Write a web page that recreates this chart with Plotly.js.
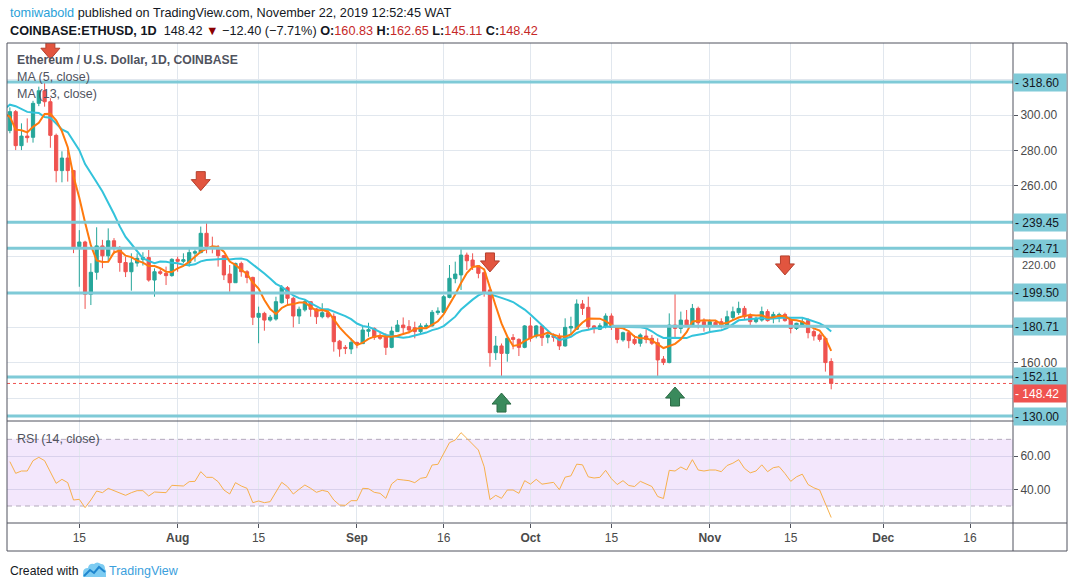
<!DOCTYPE html>
<html><head><meta charset="utf-8">
<script src="https://cdn.plot.ly/plotly-3.0.1.min.js"></script>
<style>html,body{margin:0;padding:0;background:#fff;overflow:hidden}#chart{width:1073px;height:588px}</style>
</head><body><div id="chart"></div>
<script>
// ---------------- DATA ----------------
const firstDay = '2019-07-03';
const open = [291.2,301.9,282.7,288.1,287.4,306.6,313.7,307.5,288.5,268.6,
275.7,268.6,225.7,228.3,198.8,211.2,226.1,220.5,229.0,225.2,
216.7,211.5,216.4,218.5,219.5,206.8,211.5,210.6,209.3,218.5,
217.4,216.5,222.0,222.3,233.2,225.7,225.3,220.6,210.2,205.3,
216.2,211.5,208.3,185.8,188.0,184.2,184.8,194.0,202.5,196.5,
186.5,190.0,194.6,190.5,186.1,188.4,186.3,172.3,168.8,167.9,
171.6,170.9,177.9,179.5,175.2,175.2,168.8,177.7,181.4,180.5,
179.9,177.7,180.3,180.9,188.4,188.6,197.0,207.6,209.7,220.9,
218.1,214.9,211.0,201.2,165.8,169.6,165.4,174.3,173.3,168.8,
180.9,175.2,180.9,174.5,175.2,174.8,169.6,179.7,179.0,193.3,
191.4,180.9,179.0,180.5,186.5,180.5,173.0,177.1,173.3,171.1,
175.2,173.9,171.4,162.2,160.2,181.4,179.5,184.2,181.4,190.8,
183.3,181.4,182.9,183.3,181.0,185.7,188.4,190.8,187.1,183.3,
184.2,189.0,185.7,186.1,187.4,184.6,179.5,181.4,183.9,177.7,
175.8,173.9,160.83];
const high = [304.3,302.8,295.3,298.1,308.0,316.0,318.8,309.5,289.5,279.5,
280.2,269.0,235.0,229.0,216.3,236.6,229.5,236.0,230.5,226.0,
220.0,221.9,221.9,222.5,223.8,213.4,213.4,214.4,219.1,220.0,
221.9,224.7,224.1,237.0,239.8,231.3,226.6,221.0,215.3,216.6,
217.2,212.4,208.7,191.8,188.9,187.1,197.4,204.0,203.4,197.4,
191.8,195.5,194.6,191.0,193.7,189.9,188.0,173.0,170.1,173.9,
172.0,180.9,182.7,180.1,177.1,176.7,180.5,184.2,185.7,184.2,
183.3,182.4,182.4,189.9,191.4,198.3,215.3,217.2,224.7,222.3,
221.9,215.3,211.5,201.5,175.2,171.0,174.8,176.3,173.9,181.4,
185.8,181.4,181.4,177.1,176.7,176.7,185.2,186.1,195.9,195.5,
197.4,181.4,182.4,188.0,188.0,180.9,177.7,178.6,175.8,176.7,
179.0,175.8,173.9,163.9,188.0,199.7,189.0,189.9,193.3,191.8,
185.2,184.6,184.2,185.2,189.5,191.8,194.6,192.2,188.0,186.1,
191.8,190.3,188.9,188.4,188.4,185.7,182.7,185.2,185.2,179.0,
176.7,174.8,162.65];
const low = [289.7,280.2,280.2,284.4,284.4,305.0,304.7,281.5,262.0,262.0,
262.4,222.0,203.0,190.5,192.7,207.0,213.5,217.0,221.5,211.5,
208.5,200.8,214.4,215.0,205.9,197.4,209.7,204.0,208.7,211.5,
216.3,214.4,217.2,221.9,221.9,221.9,214.4,206.8,200.2,205.3,
208.7,205.0,181.4,171.1,178.2,183.3,183.9,193.5,193.3,180.1,
182.0,189.0,186.1,182.0,185.2,185.2,166.4,163.5,165.0,165.0,
168.3,170.7,174.8,173.0,173.0,164.5,168.3,177.7,176.7,176.7,
173.9,176.7,179.5,180.5,187.1,188.0,196.5,205.0,201.2,212.5,
212.5,207.8,197.4,157.9,161.7,152.3,160.7,167.7,163.9,168.3,
172.0,173.9,169.6,171.1,172.0,167.3,169.2,175.8,178.6,187.1,
178.6,176.7,178.6,179.5,178.6,171.1,172.0,168.3,170.1,169.2,
171.1,170.1,152.6,158.8,159.8,173.9,176.7,180.5,180.5,179.5,
177.7,177.7,180.5,179.5,180.5,184.2,187.1,184.2,180.5,182.4,
183.3,183.3,182.4,183.0,183.3,176.7,178.6,180.5,173.9,172.6,
172.0,155.1,145.11];
const close = [301.9,282.7,288.1,287.2,306.6,313.7,307.5,288.5,268.6,275.7,
268.6,225.0,228.3,198.8,211.2,226.1,220.5,229.0,225.2,216.7,
211.5,216.5,219.1,219.5,206.8,211.5,210.6,209.3,218.5,217.4,
218.3,222.3,222.8,233.2,225.7,225.1,220.6,209.7,205.3,216.2,
211.5,208.3,185.8,188.0,184.2,185.8,194.6,202.7,196.5,186.5,
190.3,194.6,190.3,186.1,188.4,186.1,172.0,167.9,168.3,171.6,
170.7,178.6,178.8,174.5,173.9,168.8,178.0,181.4,179.9,178.6,
177.7,180.9,181.2,188.6,189.3,197.4,207.8,210.2,220.9,217.7,
214.4,210.6,200.2,165.8,169.6,165.4,173.9,173.3,168.8,180.9,
173.9,180.9,174.3,175.8,174.5,169.6,180.1,180.6,193.3,190.8,
180.5,179.4,181.0,186.5,180.1,173.3,177.1,172.6,171.1,175.8,
173.3,171.1,161.7,160.2,181.4,179.5,184.2,181.4,190.8,182.7,
181.4,183.3,181.4,181.0,186.1,188.9,190.8,186.1,183.3,185.2,
189.0,183.9,187.4,187.4,183.9,179.5,182.4,183.3,177.1,175.2,
173.3,160.2,148.42];
// closes before the visible window (Jun 20 - Jul 2), only used to start the moving averages
const priorFirstDay = '2019-06-20';
const priorCloses = [269,294,308,309,311,317,337,294,311,319,290,293,291];
const rsi = [56.6,49.6,51,51,57.2,59.2,57.2,50.6,43.6,46,
44,33.6,34,29,33.6,39,38,40.6,39.2,37.6,
36.4,38,39.2,39.2,36,38.4,38,38,42.4,42,
42,44.6,44.8,50.6,47.2,47.2,44.6,39.6,37.2,44,
42,40.6,32,33,32,32.6,38,44.2,41.6,37.2,
40,42.6,40.6,38.2,39.4,38.6,33.6,30.6,30.4,33.2,
33.2,40.6,40.4,38.2,37.6,34.6,43.2,46,45.6,45.2,
44,46.6,47.2,54.6,55,61.6,68,69.6,74,70.6,
67.2,63.6,53.6,33.8,36.4,34.6,39.6,39.6,37.6,45.2,
43.1,46,43.1,43.7,44.2,39.8,47.3,48.1,55.1,54.7,
47.5,46.8,47.2,51.4,46.4,42.9,45.2,42.3,41.7,44.8,
43.3,41.7,35.7,34.5,51.4,51,53.4,51.6,57.8,51.6,
51,51.6,51.6,50.6,54.3,55.7,57.8,52.6,49.9,51,
54.7,50.6,53,53.6,49.5,44.8,47.5,49.1,42.9,40.9,
39.6,31,23.1];
const levels = [318.60, 239.45, 224.71, 199.50, 152.11, 130.00];
const level2 = 180.71, level2Start = '2019-10-15';
const lastPrice = 148.42;
const sellArrows = [{d:'2019-07-10', p:331.5}, {d:'2019-08-05', p:257.3}, {d:'2019-09-24', p:211.4}, {d:'2019-11-14', p:209.7}];
const buyArrows = [{d:'2019-09-26', p:143.0}, {d:'2019-10-26', p:146.4}];
const xTickVals = ['2019-07-15','2019-08-01','2019-08-15','2019-09-01','2019-09-16','2019-10-01','2019-10-15','2019-11-01','2019-11-15','2019-12-01','2019-12-16'];
const xTickText = ['15','<b>Aug</b>','15','<b>Sep</b>','16','<b>Oct</b>','15','<b>Nov</b>','15','<b>Dec</b>','16'];
const yTickVals = [140,160,180,200,220,240,260,280,300,320];
const yTickText = ['','160.00','','','','','260.00','280.00','300.00',''];
const partlyHiddenTick = 220;

// ---------------- HELPERS ----------------
function dayList(start, n){const o=[];const t0=Date.parse(start+'T00:00:00Z');for(let i=0;i<n;i++){o.push(new Date(t0+i*86400000).toISOString().slice(0,10));}return o;}
const dates = dayList(firstDay, close.length);
const priorDates = dayList(priorFirstDay, priorCloses.length);
const allDates = priorDates.concat(dates), allCloses = priorCloses.concat(close);
function sma(n){const xs=[],ys=[];for(let i=0;i<allCloses.length;i++){if(i<n-1)continue;if(i<priorCloses.length-1)continue;let s=0;for(let k=i-n+1;k<=i;k++)s+=allCloses[k];xs.push(allDates[i]);ys.push(s/n);}return {xs,ys};}
const ma5 = sma(5), ma13 = sma(13);

const PL=7, PR=1013, PT=43, PB=523;
const X = px => (px-PL)/(PR-PL);
const Y = py => (PB-py)/(PB-PT);
const F = 'Liberation Sans, Arial, sans-serif';
const TEAL = '#7fcad7';
const FRAME = '#50535e';

// ---------------- TRACES ----------------
const traces = [
 {type:'candlestick', x:dates, open:open, high:high, low:low, close:close, xaxis:'x', yaxis:'y',
  increasing:{line:{color:'#26a69a',width:1}, fillcolor:'#26a69a'},
  decreasing:{line:{color:'#ef5350',width:1}, fillcolor:'#ef5350'}, whiskerwidth:0, hoverinfo:'skip'},
 {type:'scatter', mode:'lines', x:ma13.xs, y:ma13.ys, line:{color:'#33c3db', width:2}, xaxis:'x', yaxis:'y', hoverinfo:'skip'},
 {type:'scatter', mode:'lines', x:ma5.xs, y:ma5.ys, line:{color:'#ff7a0e', width:2}, xaxis:'x', yaxis:'y', hoverinfo:'skip'},
 {type:'scatter', mode:'lines', x:dates, y:rsi, line:{color:'#f7b04c', width:1}, xaxis:'x', yaxis:'y2', hoverinfo:'skip'}
];

// ---------------- SHAPES ----------------
const shapes = [];
shapes.push({type:'rect', xref:'paper', yref:'y2', x0:0, x1:1, y0:30, y1:70, fillcolor:'#f3e7fc', line:{width:0}, layer:'below'});
[70,30].forEach(v=>shapes.push({type:'line', xref:'paper', yref:'y2', x0:0, x1:1, y0:v, y1:v, line:{color:'#b2a9bb', width:1, dash:'5px,4px'}, layer:'between'}));
levels.forEach(v=>shapes.push({type:'line', xref:'paper', yref:'y', x0:0, x1:1, y0:v, y1:v, line:{color:TEAL, width:3}, layer:'above'}));
shapes.push({type:'line', xref:'x', yref:'y', x0:level2Start, x1:'2020-01-15', y0:level2, y1:level2, line:{color:TEAL, width:3}, layer:'above'});
shapes.push({type:'line', xref:'paper', yref:'y', x0:0, x1:1, y0:lastPrice, y1:lastPrice, line:{color:'#ef5350', width:1, dash:'dot'}, layer:'above'});
const downPath = 'M0,0 L-9.5,11 L-4.5,11 L-4.5,19 L4.5,19 L4.5,11 L9.5,11 Z';
const upPath = 'M0,0 L-9.5,-11 L-4.5,-11 L-4.5,-19 L4.5,-19 L4.5,-11 L9.5,-11 Z';
sellArrows.forEach(a=>shapes.push({type:'path', xref:'x', yref:'y', xsizemode:'pixel', ysizemode:'pixel', xanchor:a.d, yanchor:a.p, path:downPath, fillcolor:'#e2553f', line:{color:'#b33f2c', width:1}, layer:'above'}));
buyArrows.forEach(a=>shapes.push({type:'path', xref:'x', yref:'y', xsizemode:'pixel', ysizemode:'pixel', xanchor:a.d, yanchor:a.p, path:upPath, fillcolor:'#3a8a5c', line:{color:'#2b6b45', width:1}, layer:'above'}));
function pline(x0,y0,x1,y1,c){shapes.push({type:'line', xref:'paper', yref:'paper', x0:X(x0), y0:Y(y0), x1:X(x1), y1:Y(y1), line:{color:c||FRAME, width:1}, layer:'above'});}
pline(7,43,1067,43); pline(7,551,1067,551); pline(7,43,7,551); pline(1067,43,1067,551);
pline(1013,43,1013,551); pline(7,421,1067,421); pline(7,523,1067,523);
function ppath(pts){return pts.map(s=>{const c=s[0];const nums=s.slice(1);let out=c;for(let k=0;k<nums.length;k+=2){out+=(k?' ':'')+X(nums[k]).toFixed(5)+','+Y(nums[k+1]).toFixed(5);}return out;}).join(' ');}
shapes.push({type:'path', xref:'paper', yref:'paper', path: ppath([['M',83,577],['L',83,573],['Q',83,568,88,568],['Q',89,563,94,564],['Q',97,561,101,564],['Q',105,564,105,569],['Q',107,571,106,574],['L',106,577],['Z']]), fillcolor:'#7dccf2', line:{width:0}, layer:'above'});
shapes.push({type:'path', xref:'paper', yref:'paper', path: ppath([['M',84,576],['L',90,570],['L',94,573],['L',99,567],['L',105,572]]), line:{color:'#1f86cf', width:2}, layer:'above'});

// ---------------- ANNOTATIONS ----------------
const ann = [];
function txt(px, py, text, size, color, extra){ann.push(Object.assign({xref:'paper', yref:'paper', x:X(px), y:Y(py), xanchor:'left', yanchor:'middle', text:text, showarrow:false, font:{family:F, size:size, color:color}}, extra||{}));}
txt(8, 13, '<span style="color:#2a9fd8">tomiwabold</span> published on TradingView.com, November 22, 2019 12:52:45 WAT', 12.7, '#131722');
txt(8, 31, '<b>COINBASE:ETHUSD, 1D</b>  148.42 <span style="color:#8b0000">▼</span> −12.40 (−7.71%) <b>O:</b><span style="color:#c62828">160.83</span> <b>H:</b><span style="color:#c62828">162.65</span> <b>L:</b><span style="color:#c62828">145.11</span> <b>C:</b><span style="color:#c62828">148.42</span>', 12.7, '#131722');
txt(15, 60, '<b>Ethereum / U.S. Dollar, 1D, COINBASE</b>', 12.2, '#50535e');
txt(15, 77, 'MA (5, close)', 12.5, '#50535e');
txt(15, 94, 'MA (13, close)', 12.5, '#50535e');
txt(15, 439, 'RSI (14, close)', 12.5, '#50535e');
txt(8, 571, 'Created with', 12.2, '#131722');
txt(107, 571, 'TradingView', 12.5, '#3aa0dd');
function plabel(v, bg, fg, ys){ann.push({xref:'paper', yref:'y', x:1, y:v, xanchor:'left', yanchor:'middle', yshift:ys||0, text:'- '+v.toFixed(2), showarrow:false, bgcolor:bg, font:{family:F, size:12, color:fg}, width:50, height:15, align:'left', borderpad:1});}
// price-scale value just below the 224.71 label (partly hidden in the original)
ann.push({xref:'paper', yref:'y', x:1, y:partlyHiddenTick, xanchor:'left', yanchor:'top', yshift:-1, xshift:8, text:partlyHiddenTick.toFixed(2), showarrow:false, font:{family:F, size:11, color:'#4a4a4a'}, borderpad:0});
levels.forEach(v=>plabel(v, TEAL, '#131722'));
plabel(level2, TEAL, '#131722');
plabel(lastPrice, '#ef5350', '#ffffff', -10.5);

// ---------------- LAYOUT ----------------
const layout = {
 width:1073, height:588, margin:{l:PL, r:1073-PR, t:PT, b:588-PB, pad:0},
 paper_bgcolor:'#ffffff', plot_bgcolor:'#ffffff', showlegend:false, hovermode:false, boxgap:0.2,
 font:{family:F, size:12, color:'#4a4a4a'},
 xaxis:{type:'date', range:['2019-07-02 12:00','2019-12-23 10:20'], anchor:'y2', tickmode:'array', tickvals:xTickVals, ticktext:xTickText,
   showgrid:true, gridcolor:'#e1e7ee', gridwidth:1, ticks:'outside', ticklen:4, tickcolor:'#50535e', tickfont:{family:F, size:12, color:'#4a4a4a'},
   zeroline:false, showline:false, rangeslider:{visible:false}, fixedrange:true},
 yaxis:{domain:[Y(421),1], range:[127.22,340.66], side:'right', tickmode:'array', tickvals:yTickVals, ticktext:yTickText,
   showgrid:true, gridcolor:'#e1e7ee', ticks:'outside', ticklen:4, tickcolor:'#50535e', tickfont:{family:F, size:12, color:'#4a4a4a'},
   zeroline:false, showline:false, fixedrange:true},
 yaxis2:{domain:[0,Y(421)], range:[19.8,81], side:'right', tickmode:'array', tickvals:[40,60], ticktext:['40.00','60.00'],
   showgrid:true, gridcolor:'#d9d1ec', ticks:'outside', ticklen:4, tickcolor:'#50535e', tickfont:{family:F, size:12, color:'#4a4a4a'},
   zeroline:false, showline:false, fixedrange:true},
 shapes:shapes, annotations:ann
};
Plotly.newPlot('chart', traces, layout, {staticPlot:true, displayModeBar:false});
</script></body></html>
